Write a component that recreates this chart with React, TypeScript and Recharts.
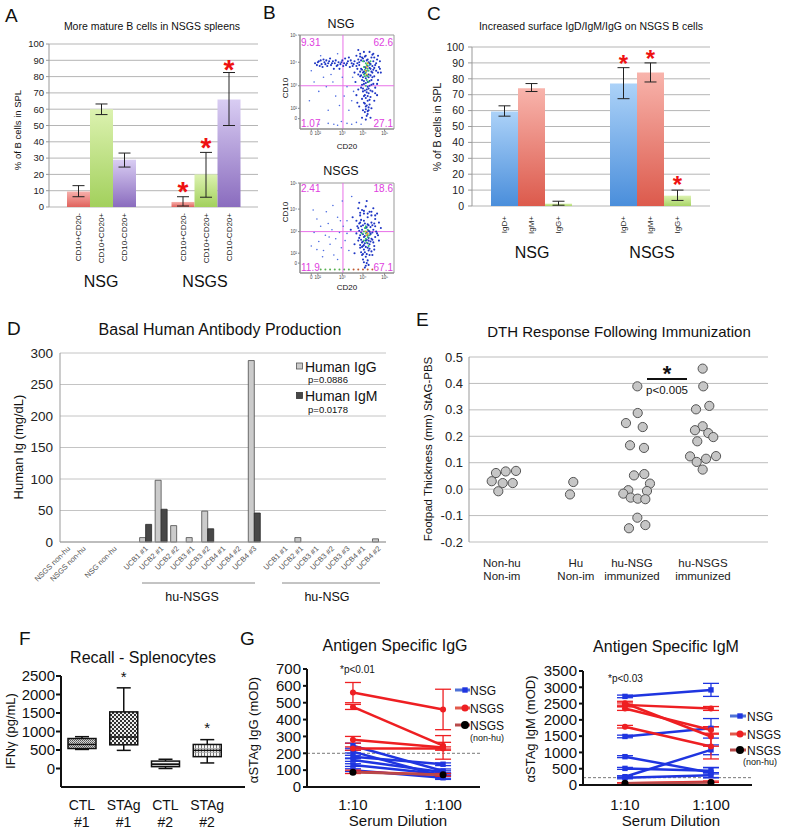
import React from 'react';
import {
  BarChart, Bar, XAxis, YAxis, CartesianGrid, ErrorBar, LabelList,
  ScatterChart, Scatter, ReferenceLine, ReferenceArea, LineChart, Line,
} from 'recharts';

const FONT = '"Liberation Sans", Arial, Helvetica, sans-serif';

// ---------------- Panel A ----------------
const A_GROUPS = ['NSG', 'NSGS'];
const A_SUBSETS = ['CD10+CD20-', 'CD10+CD20+', 'CD10-CD20+'];
const A_CD10P_CD20N = [9.5, 3.1];
const A_CD10P_CD20P = [60, 20];
const A_CD10N_CD20P = [29, 66];
const A_CD10P_CD20N_ERR = [[3.2, 3.6], [2.5, 3.2]];
const A_CD10P_CD20P_ERR = [[3.3, 3.2], [14, 13.5]];
const A_CD10N_CD20P_ERR = [[4.5, 4.1], [16, 16.5]];
const A_STAR_1 = [null, 13.5];
const A_STAR_2 = [null, 40];
const A_STAR_3 = [null, 88];
const A_TICKS = [0, 10, 20, 30, 40, 50, 60, 70, 80, 90, 100];

// ---------------- Panel C ----------------
const C_GROUPS = ['NSG', 'NSGS'];
const C_ISOTYPES = ['IgD+', 'IgM+', 'IgG+'];
const C_IGD = [59.5, 77];
const C_IGM = [74, 84];
const C_IGG = [1.5, 6.5];
const C_IGD_ERR = [[3, 3.5], [9.5, 10]];
const C_IGM_ERR = [[2, 3], [6, 6]];
const C_IGG_ERR = [[1, 1.5], [3, 3.5]];
const C_STAR_1 = [null, 92.5];
const C_STAR_2 = [null, 96];
const C_STAR_3 = [null, 16.5];

// ---------------- Panel B (flow) ----------------
const B_X_TICKS = [12, 19, 45, 67, 90];
const B_Y_TICKS = [11, 22, 46, 71, 100];
const B_TICK_LABELS = ['0', '10²', '10³', '10⁴', '10⁵'];
const B_GATE_X = 45.7;
const B_GATE_Y = 46;
const B_NSG_QUADS = ['9.31', '62.6', '1.07', '27.1'];
const B_NSGS_QUADS = ['2.41', '18.6', '11.9', '67.1'];
const B_NSG_BLUE: number[][] = [
  [16, 70], [20, 72], [23, 69], [26, 71], [28, 73], [30, 70], [33, 68], [35, 72], [37, 70], [39, 67],
  [41, 71], [43, 69], [45, 73], [47, 70], [49, 68], [51, 72], [53, 66], [55, 70], [24, 66], [32, 75],
  [42, 64], [48, 75], [36, 64], [29, 67], [52, 76], [18, 68], [58, 72], [56, 67],
  [19, 71], [22, 73], [27, 69], [31, 72], [34, 70], [38, 73], [40, 68], [44, 71], [46, 67], [50, 70],
  [54, 73], [57, 69], [25, 74], [21, 67],
  [60, 78], [62, 74], [64, 80], [66, 76], [68, 72], [70, 78], [72, 74], [74, 70], [76, 76], [78, 72],
  [80, 68], [82, 74], [63, 68], [65, 64], [67, 60], [69, 66], [71, 62], [73, 58], [75, 64], [77, 60],
  [79, 56], [81, 62], [64, 56], [66, 52], [68, 48], [70, 54], [72, 50], [74, 46], [76, 52], [78, 48],
  [65, 44], [67, 40], [69, 36], [71, 42], [73, 38], [75, 34], [77, 40], [66, 32], [68, 28], [70, 24],
  [72, 30], [74, 26], [76, 22], [69, 18], [71, 14], [73, 20], [67, 20], [62, 42], [60, 36], [80, 44],
  [83, 52], [84, 66], [86, 60], [58, 60], [59, 50], [61, 28], [63, 24], [79, 30], [82, 36], [70, 10],
  [72, 16], [66, 12], [75, 12], [61, 64], [83, 78], [85, 72], [62, 84], [68, 82], [74, 82], [78, 80],
  [63, 71], [65, 73], [67, 75], [69, 77], [71, 73], [73, 71], [75, 69], [77, 67], [79, 65], [64, 61],
  [66, 63], [68, 61], [70, 65], [72, 67], [74, 65], [76, 61], [78, 63], [65, 57], [67, 55], [69, 59],
  [71, 57], [73, 55], [75, 57], [77, 55], [66, 47], [68, 51], [70, 49], [72, 45], [74, 51], [76, 47],
  [67, 43], [69, 41], [71, 39], [73, 43], [75, 41], [68, 35], [70, 33], [72, 35], [74, 31], [69, 27],
  [71, 25], [73, 23], [70, 21], [72, 19], [61, 70], [81, 70], [83, 60], [79, 76], [77, 79], [64, 77],
  [60, 67], [85, 64], [62, 58], [82, 48], [80, 38],
];
const B_NSG_SPARSE: number[][] = [
  [10, 30], [20, 40], [30, 20], [38, 35], [25, 55], [15, 50], [42, 25], [50, 45], [55, 30], [35, 50],
  [45, 55], [52, 20], [56, 55], [57, 40], [12, 62], [22, 78], [40, 80], [28, 45], [47, 35], [33, 58],
  [20, 5], [30, 6], [40, 4], [50, 6], [55, 5], [60, 7], [65, 5], [44, 8], [36, 5],
];
const B_NSG_GREEN: number[][] = [
  [68, 66], [70, 70], [72, 64], [70, 60], [74, 68], [69, 56], [71, 52], [73, 62], [67, 72], [75, 72],
  [72, 56], [70, 46], [68, 58], [73, 50], [69, 63], [71, 68],
];
const B_NSG_HOT: number[][] = [[71, 66], [72, 70], [70, 62], [71, 58]];
const B_NSGS_BLUE: number[][] = [
  [62, 72], [66, 70], [70, 74], [74, 68], [64, 64], [68, 66], [72, 62], [76, 64], [80, 60], [60, 58],
  [64, 56], [68, 58], [72, 54], [76, 56], [80, 52], [84, 56], [62, 50], [66, 48], [70, 50], [74, 46],
  [78, 48], [82, 44], [64, 42], [68, 40], [72, 42], [76, 38], [80, 40], [62, 36], [66, 34], [70, 36],
  [74, 32], [78, 34], [64, 28], [68, 26], [72, 28], [76, 24], [66, 20], [70, 18], [74, 20], [68, 12],
  [72, 14], [70, 8], [60, 44], [58, 32], [84, 36], [86, 50], [82, 66], [78, 72], [56, 62], [54, 48],
  [58, 22], [63, 78], [71, 80], [67, 30], [75, 44], [79, 26], [65, 52], [73, 36],
  [63, 47], [65, 45], [67, 43], [69, 41], [71, 45], [73, 47], [75, 43], [77, 45], [63, 39], [65, 37],
  [67, 35], [69, 33], [71, 37], [73, 39], [75, 35], [77, 37], [64, 31], [66, 29], [68, 31], [70, 29],
  [72, 33], [74, 27], [65, 23], [67, 21], [69, 23], [71, 21], [73, 25], [63, 55], [65, 59], [67, 53],
  [69, 55], [71, 51], [73, 53], [75, 51], [77, 53], [79, 55], [64, 67], [68, 69], [72, 66], [76, 68],
  [80, 64], [67, 15], [71, 11], [69, 6], [73, 9], [81, 46], [83, 42], [61, 52], [79, 30], [77, 20],
];
const B_NSGS_SPARSE: number[][] = [
  [12, 30], [15, 45], [18, 60], [20, 35], [22, 52], [25, 25], [27, 42], [30, 55], [32, 32], [34, 48],
  [36, 20], [38, 38], [40, 62], [42, 45], [44, 28], [46, 52], [48, 36], [50, 58], [52, 25], [28, 68],
  [14, 70], [35, 75], [45, 80], [55, 85], [40, 15], [24, 18], [50, 44], [18, 26], [31, 40], [43, 58],
];
const B_NSGS_FLOOR_G: number[][] = [[22, 4], [27, 4], [32, 4], [37, 4], [42, 4], [47, 4], [52, 4]];
const B_NSGS_FLOOR_O: number[][] = [[57, 4], [62, 4], [67, 4], [72, 4], [77, 4]];
const B_NSGS_GREEN: number[][] = [
  [70, 44], [72, 40], [68, 46], [74, 42], [70, 38], [72, 48], [66, 44], [71, 34], [69, 50], [73, 30],
  [68, 36], [70, 52],
];
const B_NSGS_HOT: number[][] = [[71, 42], [70, 46], [72, 44]];

// ---------------- Panel D ----------------
const D_LABELS = [
  'NSGS non-hu', 'NSGS non-hu', '', 'NSG non-hu', '',
  'UCB1 #1', 'UCB2 #1', 'UCB2 #2', 'UCB3 #1', 'UCB3 #2', 'UCB4 #1', 'UCB4 #2', 'UCB4 #3', '',
  'UCB1 #1', 'UCB2 #1', 'UCB3 #1', 'UCB3 #2', 'UCB3 #3', 'UCB4 #1', 'UCB4 #2',
];
const D_IGG = [0, 0, 0, 0, 0, 7, 98, 26, 7, 49, 0, 0, 288, 0, 0, 7, 0, 0, 0, 0, 5];
const D_IGM = [0, 0, 0, 0, 0, 28, 52, 0, 0, 21, 0, 0, 46, 0, 0, 0, 0, 0, 0, 0, 0];
const D_TICKS = [0, 50, 100, 150, 200, 250, 300];

// ---------------- Panel E ----------------
const E_GROUP_LABELS = [['Non-hu', 'Non-im'], ['Hu', 'Non-im'], ['hu-NSG', 'immunized'], ['hu-NSGS', 'immunized']];
const E_GROUP_POS = [0.44, 1.43, 2.18, 3.13];
const E_NONHU_X = [0.361, 0.491, 0.629, 0.304, 0.451, 0.585, 0.392];
const E_NONHU_Y = [0.061, 0.067, 0.069, 0.03, 0.023, 0.023, -0.008];
const E_HU_X = [1.395, 1.351];
const E_HU_Y = [0.027, -0.02];
const E_NSG_X = [2.252, 2.257, 2.1, 2.324, 2.154, 2.341, 2.207, 2.345, 2.421, 2.131, 2.381, 2.064, 2.163, 2.257, 2.359, 2.252, 2.14, 2.359];
const E_NSG_Y = [0.389, 0.288, 0.25, 0.235, 0.166, 0.156, 0.052, 0.057, 0.021, -0.004, -0.007, -0.017, -0.032, -0.036, -0.038, -0.108, -0.148, -0.136];
const E_NSGS_X = [3.126, 3.134, 3.037, 3.215, 3.126, 3.023, 3.201, 3.268, 3.054, 2.957, 3.046, 3.171, 3.305, 3.126];
const E_NSGS_Y = [0.456, 0.389, 0.302, 0.315, 0.238, 0.223, 0.212, 0.197, 0.181, 0.124, 0.103, 0.115, 0.125, 0.074];
const E_TICKS = [-0.2, -0.1, 0, 0.1, 0.2, 0.3, 0.4, 0.5];

// ---------------- Panel F ----------------
const F_GROUPS = [['CTL', '#1'], ['STAg', '#1'], ['CTL', '#2'], ['STAg', '#2']];
const F_MIN = [515, 490, 0, 150];
const F_Q1 = [540, 640, 50, 320];
const F_MED = [650, 850, 110, 490];
const F_Q3 = [810, 1530, 200, 650];
const F_MAX = [860, 2180, 250, 780];
const F_STAR = [null, 2560, null, 1170];
const F_TICKS = [0, 500, 1000, 1500, 2000, 2500];
const F_PATTERNS = ['url(#pF1)', 'url(#pF2)', 'url(#pF3)', 'url(#pF4)'];

// ---------------- Panel G ----------------
const G_DILUTIONS = ['1:10', '1:100'];
const G1_NSGS_10 = [560, 475, 280, 228, 90];
const G1_NSGS_100 = [460, 245, 235, 228, 72];
const G1_NSGS_ERR_10 = [60, 15, 20, 10, 10];
const G1_NSGS_ERR_100 = [120, 20, 70, 10, 8];
const G1_NSG_10 = [245, 210, 180, 160, 130, 100];
const G1_NSG_100 = [95, 62, 135, 88, 75, 55];
const G1_NSG_ERR_10 = [15, 8, 8, 8, 8, 8];
const G1_NSG_ERR_100 = [12, 10, 8, 8, 8, 10];
const G1_NONHU = [88, 72];
const G1_CUTOFF = 200;
const G1_TICKS = [0, 100, 200, 300, 400, 500, 600, 700];

const G2_NSG_10 = [2720, 1490, 870, 510, 255, 220];
const G2_NSG_100 = [2920, 1740, 380, 440, 1080, 300];
const G2_NSG_ERR_10 = [40, 40, 30, 30, 30, 30];
const G2_NSG_ERR_100 = [200, 300, 150, 100, 150, 80];
const G2_NSGS_10 = [2510, 2460, 2350, 1790, 50];
const G2_NSGS_100 = [1490, 2350, 1690, 1180, 100];
const G2_NSGS_ERR_10 = [60, 60, 60, 40, 20];
const G2_NSGS_ERR_100 = [300, 60, 100, 380, 20];
const G2_NONHU = [50, 80];
const G2_CUTOFF = 225;
const G2_TICKS = [0, 500, 1000, 1500, 2000, 2500, 3000, 3500];

// ---------------- helpers ----------------
const pts = (a: number[][]) => a.map(([x, y]) => ({ x, y }));

const subsetLabel = (text: string, fontSize: number, gap: number) => (props: any) => {
  const { x, y, width, height } = props;
  const cx = Number(x) + Number(width) / 2;
  const by = Number(y) + Number(height) + gap;
  return (
    <text x={cx} y={by} transform={`rotate(-90 ${cx} ${by})`} textAnchor="end" dominantBaseline="central"
      fontSize={fontSize} fill="#222" fontFamily={FONT}>{text}</text>
  );
};

const starLabel = (values: number[], stars: (number | null)[], fontSize: number, color: string) => (props: any) => {
  const { x, y, width, height, index } = props;
  const star = stars[index];
  if (star == null) return null;
  const v = values[index];
  const ppu = Number(height) / v;
  const base = Number(y) + Number(height);
  const cy = base - star * ppu;
  return (
    <text x={Number(x) + Number(width) / 2} y={cy + fontSize * 0.56} textAnchor="middle" fontSize={fontSize}
      fontWeight="bold" fill={color} fontFamily={FONT}>*</text>
  );
};

const dotShape = (color: string, r: number) => (p: any) => <circle cx={p.cx} cy={p.cy} r={r} fill={color} />;

const BoxShape = (props: any) => {
  const { x, y, width, height, index } = props;
  const q1 = F_Q1[index];
  const q3 = F_Q3[index];
  const ppu = Number(height) / (q3 - q1);
  const py = (v: number) => Number(y) + (q3 - v) * ppu;
  const cx = Number(x) + Number(width) / 2;
  const cap = 7;
  const s = '#111';
  return (
    <g>
      <line x1={cx} x2={cx} y1={py(F_MAX[index])} y2={py(q3)} stroke={s} strokeWidth={1.5} />
      <line x1={cx - cap} x2={cx + cap} y1={py(F_MAX[index])} y2={py(F_MAX[index])} stroke={s} strokeWidth={1.5} />
      <line x1={cx} x2={cx} y1={py(q1)} y2={py(F_MIN[index])} stroke={s} strokeWidth={1.5} />
      <line x1={cx - cap} x2={cx + cap} y1={py(F_MIN[index])} y2={py(F_MIN[index])} stroke={s} strokeWidth={1.5} />
      <rect x={x} y={y} width={width} height={height} fill={F_PATTERNS[index]} stroke={s} strokeWidth={1.5} />
      <line x1={x} x2={Number(x) + Number(width)} y1={py(F_MED[index])} y2={py(F_MED[index])} stroke={s} strokeWidth={1.5} />
    </g>
  );
};

const fStar = (props: any) => {
  const { x, y, width, height, index } = props;
  const star = F_STAR[index];
  if (star == null) return null;
  const ppu = Number(height) / (F_Q3[index] - F_Q1[index]);
  const cy = Number(y) - (star - F_Q3[index]) * ppu;
  return <text x={Number(x) + Number(width) / 2} y={cy + 8} textAnchor="middle" fontSize={15} fill="#111" fontFamily={FONT}>*</text>;
};

const squareDot = (color: string) => (p: any) => (
  <rect key={`${p.cx}-${p.cy}`} x={p.cx - 2.7} y={p.cy - 2.7} width={5.4} height={5.4} fill={color} />
);
const circleDot = (color: string, r: number) => (p: any) => (
  <circle key={`${p.cx}-${p.cy}`} cx={p.cx} cy={p.cy} r={r} fill={color} />
);

const RED = '#ee1f22';
const BLUE = '#1f35e0';
const NONHU_LINE = '#b84a4a';

const lineData = (a: number, b: number, ea?: number, eb?: number) => [
  { x: 1, y: a, e: ea ?? 0 },
  { x: 2, y: b, e: eb ?? 0 },
];

// ---------------- sub charts ----------------
const abs = (left: number, top: number): React.CSSProperties => ({ position: 'absolute', left, top });

function PanelA() {
  const data = A_GROUPS.map((g, i) => ({
    group: g,
    s1: A_CD10P_CD20N[i], s1e: A_CD10P_CD20N_ERR[i],
    s2: A_CD10P_CD20P[i], s2e: A_CD10P_CD20P_ERR[i],
    s3: A_CD10N_CD20P[i], s3e: A_CD10N_CD20P_ERR[i],
  }));
  return (
    <div style={abs(0, 0)}>
      <BarChart width={265} height={290} data={data} margin={{ top: 44, right: 7, bottom: 83, left: 0 }} barGap={0} barSize={23}>
        <CartesianGrid vertical={false} stroke="#b5b5b5" />
        <XAxis dataKey="group" hide />
        <YAxis width={49} domain={[0, 100]} ticks={A_TICKS} interval={0} tick={{ fontSize: 9.5, fill: '#222', fontFamily: FONT }}
          axisLine={{ stroke: '#999' }} tickLine={{ stroke: '#999' }} tickSize={3} tickMargin={2} />
        <Bar dataKey="s1" fill="url(#gAred)" isAnimationActive={false}>
          <ErrorBar dataKey="s1e" width={6} stroke="#222" strokeWidth={1} />
          <LabelList dataKey="s1" content={subsetLabel(A_SUBSETS[0], 8, 6)} />
          <LabelList dataKey="s1" content={starLabel(A_CD10P_CD20N, A_STAR_1, 28, '#ee1111')} />
        </Bar>
        <Bar dataKey="s2" fill="url(#gAgreen)" isAnimationActive={false}>
          <ErrorBar dataKey="s2e" width={6} stroke="#222" strokeWidth={1} />
          <LabelList dataKey="s2" content={subsetLabel(A_SUBSETS[1], 8, 6)} />
          <LabelList dataKey="s2" content={starLabel(A_CD10P_CD20P, A_STAR_2, 28, '#ee1111')} />
        </Bar>
        <Bar dataKey="s3" fill="url(#gApurple)" isAnimationActive={false}>
          <ErrorBar dataKey="s3e" width={6} stroke="#222" strokeWidth={1} />
          <LabelList dataKey="s3" content={subsetLabel(A_SUBSETS[2], 8, 6)} />
          <LabelList dataKey="s3" content={starLabel(A_CD10N_CD20P, A_STAR_3, 28, '#ee1111')} />
        </Bar>
      </BarChart>
    </div>
  );
}

function PanelC() {
  const data = C_GROUPS.map((g, i) => ({
    group: g,
    d: C_IGD[i], de: C_IGD_ERR[i],
    m: C_IGM[i], me: C_IGM_ERR[i],
    g: C_IGG[i], ge: C_IGG_ERR[i],
  }));
  return (
    <div style={abs(375, 0)}>
      <BarChart width={345} height={290} data={data} margin={{ top: 47, right: 10, bottom: 84, left: 47 }} barGap={0} barSize={27}>
        <CartesianGrid vertical={false} stroke="#b5b5b5" />
        <XAxis dataKey="group" hide />
        <YAxis width={50} domain={[0, 100]} ticks={A_TICKS} interval={0} tick={{ fontSize: 10.5, fill: '#222', fontFamily: FONT }}
          axisLine={{ stroke: '#999' }} tickLine={{ stroke: '#999' }} tickSize={4} tickMargin={4} />
        <Bar dataKey="d" fill="url(#gCblue)" isAnimationActive={false}>
          <ErrorBar dataKey="de" width={6} stroke="#222" strokeWidth={1} />
          <LabelList dataKey="d" content={subsetLabel(C_ISOTYPES[0], 8, 10)} />
          <LabelList dataKey="d" content={starLabel(C_IGD, C_STAR_1, 24, '#ee1111')} />
        </Bar>
        <Bar dataKey="m" fill="url(#gCred)" isAnimationActive={false}>
          <ErrorBar dataKey="me" width={6} stroke="#222" strokeWidth={1} />
          <LabelList dataKey="m" content={subsetLabel(C_ISOTYPES[1], 8, 10)} />
          <LabelList dataKey="m" content={starLabel(C_IGM, C_STAR_2, 24, '#ee1111')} />
        </Bar>
        <Bar dataKey="g" fill="url(#gCgreen)" isAnimationActive={false}>
          <ErrorBar dataKey="ge" width={6} stroke="#222" strokeWidth={1} />
          <LabelList dataKey="g" content={subsetLabel(C_ISOTYPES[2], 8, 10)} />
          <LabelList dataKey="g" content={starLabel(C_IGG, C_STAR_3, 24, '#ee1111')} />
        </Bar>
      </BarChart>
    </div>
  );
}

function FlowPlot(props: {
  top: number; bottomMargin: number;
  blue: number[][]; sparse: number[][]; green: number[][]; hot: number[][];
  floorG?: number[][]; floorO?: number[][];
}) {
  const tickStyle = { fontSize: 4.5, fill: '#444', fontFamily: FONT };
  return (
    <div style={abs(270, props.top)}>
      <ScatterChart width={130} height={130} margin={{ top: 15, right: 6, bottom: props.bottomMargin, left: 0 }}>
        <XAxis type="number" dataKey="x" domain={[0, 100]} ticks={B_X_TICKS} interval={0} height={10}
          tickFormatter={(v: number) => B_TICK_LABELS[B_X_TICKS.indexOf(v)]} tick={tickStyle}
          axisLine={{ stroke: '#888' }} tickLine={{ stroke: '#888' }} tickSize={2} tickMargin={1} allowDataOverflow />
        <YAxis type="number" dataKey="y" domain={[0, 100]} ticks={B_Y_TICKS} interval={0} width={30}
          tickFormatter={(v: number) => B_TICK_LABELS[B_Y_TICKS.indexOf(v)]} tick={tickStyle}
          axisLine={{ stroke: '#888' }} tickLine={{ stroke: '#888' }} tickSize={2} tickMargin={1} allowDataOverflow />
        <ReferenceArea x1={0} x2={100} y1={0} y2={100} fill="none" stroke="#999" strokeWidth={1} ifOverflow="visible" />
        <Scatter data={pts(props.sparse)} shape={dotShape('#4a6ae0', 0.8)} isAnimationActive={false} />
        <Scatter data={pts(props.blue)} shape={dotShape('#1f36c4', 1.05)} isAnimationActive={false} />
        <Scatter data={pts(props.green)} shape={dotShape('#35c06a', 1)} isAnimationActive={false} />
        <Scatter data={pts(props.hot)} shape={dotShape('#e8b020', 1)} isAnimationActive={false} />
        {props.floorG && <Scatter data={pts(props.floorG)} shape={dotShape('#58b050', 1)} isAnimationActive={false} />}
        {props.floorO && <Scatter data={pts(props.floorO)} shape={dotShape('#c05a30', 1)} isAnimationActive={false} />}
        <ReferenceLine x={B_GATE_X} stroke="#e870e8" strokeWidth={1} />
        <ReferenceLine y={B_GATE_Y} stroke="#e870e8" strokeWidth={1} />
      </ScatterChart>
    </div>
  );
}

function PanelD() {
  const data = D_LABELS.map((l, i) => ({ idx: i, igg: D_IGG[i], igm: D_IGM[i] }));
  const Tick = (p: any) => {
    const label = D_LABELS[p.payload.value];
    if (!label) return null;
    const tx = p.x + 3;
    const ty = p.y + 7;
    return (
      <text x={tx} y={ty} transform={`rotate(-45 ${tx} ${ty})`} textAnchor="end" fontSize={7.5} fill="#555" fontFamily={FONT}>{label}</text>
    );
  };
  return (
    <div style={abs(0, 290)}>
      <BarChart width={400} height={305} data={data} margin={{ top: 63, right: 14, bottom: 15, left: 0 }} barGap={0} barSize={6}>
        <CartesianGrid vertical={false} stroke="#c4c4c4" />
        <XAxis dataKey="idx" interval={0} height={38} tick={<Tick />} tickSize={0} tickMargin={0} axisLine={{ stroke: '#999' }} tickLine={false} />
        <YAxis width={60} domain={[0, 300]} ticks={D_TICKS} interval={0} tick={{ fontSize: 13.5, fill: '#222', fontFamily: FONT }}
          axisLine={{ stroke: '#999' }} tickLine={false} tickSize={0} tickMargin={7} />
        <Bar dataKey="igg" fill="#cbcbcb" stroke="#4a4a4a" strokeWidth={0.8} isAnimationActive={false} />
        <Bar dataKey="igm" fill="#474747" stroke="#2a2a2a" strokeWidth={0.8} isAnimationActive={false} />
      </BarChart>
    </div>
  );
}

function PanelE() {
  const mk = (xs: number[], ys: number[]) => xs.map((x, i) => ({ x, y: ys[i] }));
  const Tick = (p: any) => {
    const i = E_GROUP_POS.indexOf(p.payload.value);
    const lines = E_GROUP_LABELS[i];
    if (!lines) return null;
    return (
      <g fontFamily={FONT} fontSize={11.5} fill="#222">
        <text x={p.x} y={p.y + 25} textAnchor="middle">{lines[0]}</text>
        <text x={p.x} y={p.y + 38} textAnchor="middle">{lines[1]}</text>
      </g>
    );
  };
  const circ = (p: any) => <circle cx={p.cx} cy={p.cy} r={4.6} fill="#c6c6c6" stroke="#555" strokeWidth={1} />;
  return (
    <div style={abs(410, 290)}>
      <ScatterChart width={375} height={305} margin={{ top: 67, right: 17, bottom: 15, left: 19 }}>
        <CartesianGrid vertical={false} stroke="#bdbdbd" />
        <XAxis type="number" dataKey="x" domain={[0, 4]} ticks={E_GROUP_POS} interval={0} height={38} tick={<Tick />}
          tickSize={0} tickMargin={0} axisLine={false} tickLine={false} />
        <YAxis type="number" dataKey="y" domain={[-0.2, 0.5]} ticks={E_TICKS} interval={0} width={40}
          tickFormatter={(v: number) => v.toFixed(1)} tick={{ fontSize: 13, fill: '#222', fontFamily: FONT }}
          axisLine={{ stroke: '#999' }} tickLine={false} tickSize={0} tickMargin={6} />
        <Scatter data={mk(E_NONHU_X, E_NONHU_Y)} shape={circ} isAnimationActive={false} />
        <Scatter data={mk(E_HU_X, E_HU_Y)} shape={circ} isAnimationActive={false} />
        <Scatter data={mk(E_NSG_X, E_NSG_Y)} shape={circ} isAnimationActive={false} />
        <Scatter data={mk(E_NSGS_X, E_NSGS_Y)} shape={circ} isAnimationActive={false} />
      </ScatterChart>
    </div>
  );
}

function PanelF() {
  const data = F_GROUPS.map((g, i) => ({ idx: i, base: F_Q1[i], iqr: F_Q3[i] - F_Q1[i] }));
  const Tick = (p: any) => {
    const lines = F_GROUPS[p.payload.value];
    return (
      <g fontFamily={FONT} fontSize={14} fill="#111">
        <text x={p.x} y={p.y + 23} textAnchor="middle">{lines[0]}</text>
        <text x={p.x} y={p.y + 40} textAnchor="middle">{lines[1]}</text>
      </g>
    );
  };
  return (
    <div style={abs(0, 580)}>
      <BarChart width={250} height={251} data={data} margin={{ top: 96, right: 5, bottom: 0, left: 0 }} barSize={28}>
        <XAxis dataKey="idx" interval={0} height={44} tick={<Tick />} tickSize={0} tickMargin={0}
          axisLine={{ stroke: '#111', strokeWidth: 2 }} tickLine={false} padding={{ left: 0, right: 17 }} />
        <YAxis width={61} domain={[-500, 2500]} ticks={F_TICKS} interval={0} tick={{ fontSize: 15, fill: '#111', fontFamily: FONT }}
          axisLine={{ stroke: '#111', strokeWidth: 2 }} tickLine={{ stroke: '#111', strokeWidth: 2 }} tickSize={5} tickMargin={1} allowDataOverflow />
        <Bar dataKey="base" stackId="s" fill="transparent" isAnimationActive={false} />
        <Bar dataKey="iqr" stackId="s" shape={BoxShape} isAnimationActive={false}>
          <LabelList dataKey="iqr" content={fStar} />
        </Bar>
      </BarChart>
    </div>
  );
}

function PanelG(props: {
  left: number; width: number; margin: any; domainX: number[]; domainY: number[]; ticks: number[];
  nsg10: number[]; nsg100: number[]; nsgE10: number[]; nsgE100: number[];
  nsgs10: number[]; nsgs100: number[]; nsgsE10: number[]; nsgsE100: number[];
  nonhu: number[]; cutoff: number; tickDy: number;
}) {
  const Tick = (p: any) => (
    <text x={p.x} y={p.y + props.tickDy} textAnchor="middle" fontSize={15} fill="#111" fontFamily={FONT}>
      {G_DILUTIONS[p.payload.value - 1]}
    </text>
  );
  return (
    <div style={abs(props.left, 580)}>
      <LineChart width={props.width} height={251} margin={props.margin}>
        <XAxis type="number" dataKey="x" domain={props.domainX} ticks={[1, 2]} interval={0} height={props.margin.bottomAxis}
          tick={<Tick />} tickSize={0} tickMargin={0} axisLine={{ stroke: '#111', strokeWidth: 2 }} tickLine={false} allowDataOverflow />
        <YAxis type="number" dataKey="y" domain={props.domainY} ticks={props.ticks} interval={0} width={60}
          tick={{ fontSize: 15, fill: '#111', fontFamily: FONT }} axisLine={{ stroke: '#111', strokeWidth: 2 }}
          tickLine={{ stroke: '#111', strokeWidth: 2 }} tickSize={4} tickMargin={2} allowDataOverflow />
        <ReferenceLine y={props.cutoff} stroke="#777" strokeDasharray="3 2" strokeWidth={1} />
        {props.nsg10.map((v, i) => (
          <Line key={`b${i}`} data={lineData(v, props.nsg100[i], props.nsgE10[i], props.nsgE100[i])} dataKey="y"
            stroke={BLUE} strokeWidth={2.5} dot={squareDot(BLUE)} activeDot={false} isAnimationActive={false}>
            <ErrorBar dataKey="e" width={8} stroke={BLUE} strokeWidth={1.3} direction="y" />
          </Line>
        ))}
        {props.nsgs10.map((v, i) => (
          <Line key={`r${i}`} data={lineData(v, props.nsgs100[i], props.nsgsE10[i], props.nsgsE100[i])} dataKey="y"
            stroke={RED} strokeWidth={2.5} dot={circleDot(RED, 3)} activeDot={false} isAnimationActive={false}>
            <ErrorBar dataKey="e" width={8} stroke={RED} strokeWidth={1.3} direction="y" />
          </Line>
        ))}
        <Line data={lineData(props.nonhu[0], props.nonhu[1])} dataKey="y" stroke={NONHU_LINE} strokeWidth={2.5}
          dot={circleDot('#000', 3.5)} activeDot={false} isAnimationActive={false} />
      </LineChart>
    </div>
  );
}

function Defs() {
  const grad = (id: string, top: string, bottom: string) => (
    <linearGradient id={id} x1="0" y1="0" x2="0" y2="1">
      <stop offset="0%" stopColor={top} />
      <stop offset="100%" stopColor={bottom} />
    </linearGradient>
  );
  return (
    <svg width={0} height={0} style={{ position: 'absolute', left: 0, top: 0 }}>
      <defs>
        {grad('gAred', '#f7b0ac', '#e0625c')}
        {grad('gAgreen', '#dcf2b0', '#a2d05c')}
        {grad('gApurple', '#d9cdf3', '#8a6cbe')}
        {grad('gCblue', '#acd2f8', '#4a8edb')}
        {grad('gCred', '#f8b4ac', '#dc5a4c')}
        {grad('gCgreen', '#dcf2b0', '#a8d466')}
        <pattern id="pF1" width="2" height="2" patternUnits="userSpaceOnUse">
          <rect width="2" height="2" fill="#d8d8d8" />
          <rect width="1" height="1" fill="#555" />
          <rect x="1" y="1" width="1" height="1" fill="#777" />
        </pattern>
        <pattern id="pF2" width="4" height="4" patternUnits="userSpaceOnUse">
          <rect width="4" height="4" fill="#eee" />
          <rect width="2" height="2" fill="#333" />
          <rect x="2" y="2" width="2" height="2" fill="#333" />
        </pattern>
        <pattern id="pF3" width="3" height="3" patternUnits="userSpaceOnUse">
          <rect width="3" height="3" fill="#f4f4f4" />
          <rect width="3" height="1" fill="#777" />
        </pattern>
        <pattern id="pF4" width="3" height="4" patternUnits="userSpaceOnUse">
          <rect width="3" height="4" fill="#f6f6f6" />
          <rect width="1" height="4" fill="#777" />
          <rect width="3" height="0.8" fill="#aaa" />
        </pattern>
      </defs>
    </svg>
  );
}

function Overlay() {
  const T = (p: { x: number; y: number; s: number; a?: 'start' | 'middle' | 'end'; c?: string; w?: string; r?: boolean; children: React.ReactNode }) => (
    <text x={p.x} y={p.y} fontSize={p.s} textAnchor={p.a ?? 'start'} fill={p.c ?? '#111'} fontWeight={p.w ?? 'normal'}
      transform={p.r ? `rotate(-90 ${p.x} ${p.y})` : undefined} dominantBaseline={p.r ? 'central' : undefined}>
      {p.children}
    </text>
  );
  const MAG = '#e040e0';
  const legendG = (x1: number, x2: number, mx: number, ys: number[], tx: number, nonhuY: number, nonhuX: number) => (
    <g>
      <line x1={x1} x2={x2} y1={ys[0]} y2={ys[0]} stroke="#4f72d6" strokeWidth={3} />
      <rect x={mx - 2.7} y={ys[0] - 2.7} width={5.4} height={5.4} fill={BLUE} />
      <T x={tx} y={ys[0] + 4.5} s={12}>NSG</T>
      <line x1={x1} x2={x2} y1={ys[1]} y2={ys[1]} stroke="#e25a4c" strokeWidth={3} />
      <circle cx={mx} cy={ys[1]} r={3.5} fill={RED} />
      <T x={tx} y={ys[1] + 4.5} s={12}>NSGS</T>
      <line x1={x1} x2={x2} y1={ys[2]} y2={ys[2]} stroke={NONHU_LINE} strokeWidth={3} />
      <circle cx={mx} cy={ys[2]} r={4} fill="#000" />
      <T x={tx} y={ys[2] + 4.5} s={12}>NSGS</T>
      <T x={nonhuX} y={nonhuY} s={9} a="middle">(non-hu)</T>
    </g>
  );
  return (
    <svg width={785} height={831} style={{ position: 'absolute', left: 0, top: 0, pointerEvents: 'none' }} fontFamily={FONT}>
      {/* panel letters */}
      <T x={5} y={22} s={19}>A</T>
      <T x={263} y={19} s={19}>B</T>
      <T x={427} y={20} s={19}>C</T>
      <T x={7} y={335} s={19}>D</T>
      <T x={416} y={326} s={19}>E</T>
      <T x={19} y={645} s={19}>F</T>
      <T x={240} y={645} s={19}>G</T>

      {/* A */}
      <T x={152} y={30} s={10.5} a="middle">More mature B cells in NSGS spleens</T>
      <T x={17} y={130} s={9.5} a="middle" r>% of B cells in SPL</T>
      <T x={101} y={287} s={16} a="middle">NSG</T>
      <T x={205} y={287} s={16} a="middle">NSGS</T>

      {/* B */}
      <T x={341} y={28} s={12.5} a="middle">NSG</T>
      <T x={341} y={175} s={12.5} a="middle">NSGS</T>
      <T x={285} y={88} s={8} a="middle" r>CD10</T>
      <T x={285} y={212} s={8} a="middle" r>CD10</T>
      <T x={347} y={149} s={8} a="middle">CD20</T>
      <T x={347} y={290} s={8} a="middle">CD20</T>
      <T x={301} y={46} s={10} c={MAG}>{B_NSG_QUADS[0]}</T>
      <T x={393} y={46} s={10} c={MAG} a="end">{B_NSG_QUADS[1]}</T>
      <T x={301} y={127} s={10} c={MAG}>{B_NSG_QUADS[2]}</T>
      <T x={393} y={127} s={10} c={MAG} a="end">{B_NSG_QUADS[3]}</T>
      <T x={301} y={192} s={10} c={MAG}>{B_NSGS_QUADS[0]}</T>
      <T x={393} y={192} s={10} c={MAG} a="end">{B_NSGS_QUADS[1]}</T>
      <T x={301} y={271} s={10} c={MAG}>{B_NSGS_QUADS[2]}</T>
      <T x={393} y={271} s={10} c={MAG} a="end">{B_NSGS_QUADS[3]}</T>

      {/* C */}
      <T x={591} y={30} s={10.5} a="middle">Increased surface IgD/IgM/IgG on NSGS B cells</T>
      <T x={437} y={127} s={10.5} a="middle" r>% of B cells in SPL</T>
      <T x={532} y={258} s={16} a="middle">NSG</T>
      <T x={652} y={258} s={16} a="middle">NSGS</T>

      {/* D */}
      <T x={220} y={335} s={16} a="middle">Basal Human Antibody Production</T>
      <T x={18} y={447} s={13} a="middle" r>Human Ig (mg/dL)</T>
      <rect x={296.5} y={363} width={6} height={6} fill="#cbcbcb" stroke="#555" strokeWidth={0.8} />
      <T x={305} y={372} s={14}>Human IgG</T>
      <T x={328} y={383} s={9.5} a="middle">p=0.0886</T>
      <rect x={296.5} y={392.5} width={6} height={6} fill="#474747" stroke="#333" strokeWidth={0.8} />
      <T x={305} y={401} s={14}>Human IgM</T>
      <T x={328} y={413} s={9.5} a="middle">p=0.0178</T>
      <line x1={142} x2={255} y1={583} y2={583} stroke="#888" strokeWidth={1} />
      <T x={192} y={601} s={12.5} a="middle">hu-NSGS</T>
      <line x1={282} x2={380} y1={583} y2={583} stroke="#888" strokeWidth={1} />
      <T x={327} y={601} s={12.5} a="middle">hu-NSG</T>

      {/* E */}
      <T x={619} y={337} s={15} a="middle">DTH Response Following Immunization</T>
      <T x={428} y={449} s={11.5} a="middle" r>Footpad Thickness (mm) StAG-PBS</T>
      <line x1={647} x2={687} y1={379} y2={379} stroke="#111" strokeWidth={2} />
      <T x={667} y={381} s={22} a="middle" w="bold">*</T>
      <T x={667} y={394} s={11.5} a="middle">p&lt;0.005</T>

      {/* F */}
      <T x={143} y={663} s={16} a="middle">Recall - Splenocytes</T>
      <T x={10} y={731} s={13} a="middle" r>IFNγ (pg/mL)</T>

      {/* G */}
      <T x={395} y={651} s={16} a="middle">Antigen Specific IgG</T>
      <T x={253} y={730} s={13} a="middle" r>αSTAg IgG (mOD)</T>
      <T x={340} y={673} s={10}>*p&lt;0.01</T>
      <T x={398} y={826} s={15} a="middle">Serum Dilution</T>
      {legendG(455, 470, 465, [690, 708, 725], 470, 741, 487)}

      <T x={666} y={652} s={16} a="middle">Antigen Specific IgM</T>
      <T x={530} y={729} s={13} a="middle" r>αSTAg IgM (mOD)</T>
      <T x={608} y={682} s={10}>*p&lt;0.03</T>
      <T x={671} y={826} s={15} a="middle">Serum Dilution</T>
      {legendG(730, 746, 740, [716, 734, 750], 747, 765, 760)}
    </svg>
  );
}

export default function App() {
  return (
    <div style={{ position: 'absolute', left: 0, top: 0, width: 785, height: 831, background: '#fff', fontFamily: FONT, overflow: 'hidden' }}>
      <Defs />
      <PanelA />
      <FlowPlot top={20} bottomMargin={11} blue={B_NSG_BLUE} sparse={B_NSG_SPARSE} green={B_NSG_GREEN} hot={B_NSG_HOT} />
      <FlowPlot top={168} bottomMargin={15} blue={B_NSGS_BLUE} sparse={B_NSGS_SPARSE} green={B_NSGS_GREEN} hot={B_NSGS_HOT}
        floorG={B_NSGS_FLOOR_G} floorO={B_NSGS_FLOOR_O} />
      <PanelC />
      <PanelD />
      <PanelE />
      <PanelF />
      <PanelG left={240} width={265} margin={{ top: 89, right: 25, bottom: 0, left: 7, bottomAxis: 44 }}
        domainX={[0.49, 2.41]} domainY={[0, 700]} ticks={G1_TICKS}
        nsg10={G1_NSG_10} nsg100={G1_NSG_100} nsgE10={G1_NSG_ERR_10} nsgE100={G1_NSG_ERR_100}
        nsgs10={G1_NSGS_10} nsgs100={G1_NSGS_100} nsgsE10={G1_NSGS_ERR_10} nsgsE100={G1_NSGS_ERR_100}
        nonhu={G1_NONHU} cutoff={G1_CUTOFF} tickDy={23} />
      <PanelG left={505} width={280} margin={{ top: 91, right: 33, bottom: 0, left: 18, bottomAxis: 46 }}
        domainX={[0.512, 2.477]} domainY={[0, 3500]} ticks={G2_TICKS}
        nsg10={G2_NSG_10} nsg100={G2_NSG_100} nsgE10={G2_NSG_ERR_10} nsgE100={G2_NSG_ERR_100}
        nsgs10={G2_NSGS_10} nsgs100={G2_NSGS_100} nsgsE10={G2_NSGS_ERR_10} nsgsE100={G2_NSGS_ERR_100}
        nonhu={G2_NONHU} cutoff={G2_CUTOFF} tickDy={25} />
      <Overlay />
    </div>
  );
}
